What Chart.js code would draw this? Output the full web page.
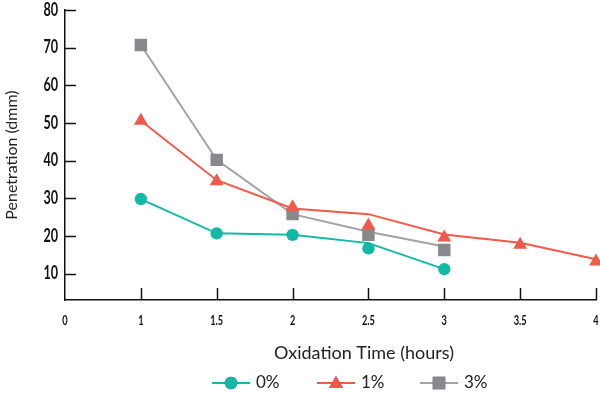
<!DOCTYPE html>
<html>
<head>
<meta charset="utf-8">
<script src="https://cdn.jsdelivr.net/npm/chart.js@4/dist/chart.umd.min.js"></script>
<style>
  html, body { margin: 0; padding: 0; background: #fff; }
  #wrap { width: 600px; height: 394px; position: relative; }
</style>
</head>
<body>
<div id="wrap"><canvas id="c"></canvas></div>
<script>
const categories = ['0', '1', '1.5', '2', '2.5', '3', '3.5', '4'];
// connecting-line vertices (as drawn in the figure)
const series0Line = [null, 29.8, 20.7, 20.3, 18.1, 11.2, null, null];
const series1Line = [null, 50.6, 34.8, 27.3, 25.8, 20.4, 18.2, 13.8];
const series3Line = [null, 70.7, 40.2, 25.8, 21.1, 17.2, null, null];
// marker positions (as drawn in the figure)
const series0Marker = [null, 29.8, 20.7, 20.3, 16.7, 11.2, null, null];
const series1Marker = [null, 50.6, 34.5, 27.6, 22.8, 19.6, 17.7, 13.2];
const series3Marker = [null, 70.7, 40.2, 25.8, 20.3, 16.3, null, null];
const seriesNames = ['0%', '1%', '3%'];
const yTicks = [10, 20, 30, 40, 50, 60, 70, 80];

const TEAL = '#14b8a6';
const RED = '#f15a4a';
const GRAYLINE = '#a3a3a3';
const GRAYPT = '#88888d';
const SANS = "Lato, 'Open Sans', sans-serif";

// draws condensed tick labels, inward tick marks, x title and legend
const axisDecor = {
  id: 'axisDecor',
  afterDraw(chart) {
    const ctx = chart.ctx;
    const a = chart.chartArea;
    const xs = chart.scales.x, ys = chart.scales.y;
    ctx.save();
    ctx.strokeStyle = '#111';
    ctx.lineWidth = 1.5;
    ys.ticks.forEach(t => {
      const py = Math.round(ys.getPixelForValue(t.value)) + 0.5;
      ctx.beginPath(); ctx.moveTo(a.left, py); ctx.lineTo(a.left + 11, py); ctx.stroke();
    });
    xs.ticks.forEach((t, i) => {
      if (i === 0) return;
      const px = Math.round(xs.getPixelForTick(i)) + 0.5;
      ctx.beginPath(); ctx.moveTo(px, a.bottom); ctx.lineTo(px, a.bottom - 12); ctx.stroke();
    });
    // condensed tick labels
    ctx.fillStyle = '#111';
    ctx.textBaseline = 'middle';
    ctx.font = 'bold 18px ' + SANS;
    ctx.textAlign = 'right';
    ys.ticks.forEach(t => {
      const py = ys.getPixelForValue(t.value);
      ctx.save();
      ctx.translate(a.left - 7, py);
      ctx.scale(0.7, 1);
      ctx.fillText(String(t.value), 0, 0);
      ctx.restore();
    });
    ctx.font = 'bold 14px ' + SANS;
    ctx.textAlign = 'center';
    xs.ticks.forEach((t, i) => {
      const px = xs.getPixelForTick(i);
      ctx.save();
      ctx.translate(px, a.bottom + 20);
      ctx.scale(0.66, 1);
      ctx.fillText(categories[i], 0, 0);
      ctx.restore();
    });
    // x axis title
    ctx.fillStyle = '#222';
    ctx.font = '18px ' + SANS;
    ctx.textAlign = 'center';
    ctx.fillText('Oxidation Time (hours)', 364, 353);
    // legend
    const items = chart.data.datasets.slice(0, 3);
    const starts = [212, 317, 420];
    items.forEach((ds, i) => {
      const x0 = starts[i], y0 = 383;
      ctx.strokeStyle = chart.data.datasets[i + 3].borderColor;
      ctx.lineWidth = 2;
      ctx.beginPath(); ctx.moveTo(x0, y0); ctx.lineTo(x0 + 38, y0); ctx.stroke();
      Chart.helpers.drawPoint(ctx, {
        pointStyle: ds.pointStyle, radius: ds.pointRadius, borderWidth: 0
      }, x0 + 19, y0 + (ds.pointStyle === 'triangle' ? 1 : 0));
      ctx.fillStyle = ds.pointBackgroundColor;
      ctx.fill();
      ctx.fillStyle = '#222';
      ctx.font = '17px ' + SANS;
      ctx.textAlign = 'left';
      ctx.fillText(ds.label, x0 + 44, y0);
    });
    ctx.restore();
  }
};

function markerSet(label, data, color, style, r) {
  return { label, data, showLine: false, borderColor: color, backgroundColor: color,
    pointBackgroundColor: color, pointBorderWidth: 0, pointStyle: style, pointRadius: r };
}
function lineSet(label, data, color) {
  return { label, data, borderColor: color, backgroundColor: color, pointRadius: 0,
    borderWidth: 2, tension: 0, spanGaps: false };
}

new Chart(document.getElementById('c'), {
  type: 'line',
  data: {
    labels: categories,
    datasets: [
      markerSet(seriesNames[0], series0Marker, TEAL, 'circle', 6.2),
      markerSet(seriesNames[1], series1Marker, RED, 'triangle', 8),
      markerSet(seriesNames[2], series3Marker, GRAYPT, 'rect', 8.8),
      lineSet(seriesNames[0], series0Line, TEAL),
      lineSet(seriesNames[1], series1Line, RED),
      lineSet(seriesNames[2], series3Line, GRAYLINE)
    ]
  },
  options: {
    responsive: true,
    maintainAspectRatio: false,
    animation: false,
    layout: { autoPadding: false, padding: { top: 10, right: 4, left: 0, bottom: 0 } },
    plugins: { legend: { display: false }, tooltip: { enabled: false } },
    scales: {
      x: {
        type: 'category',
        offset: false,
        grid: { display: false, drawTicks: false },
        border: { display: true, color: '#111', width: 1.5 },
        ticks: { display: false, autoSkip: false },
        afterFit(s) { s.height = 94; }
      },
      y: {
        min: 3, max: 80,
        grid: { display: false, drawTicks: false },
        border: { display: true, color: '#111', width: 1.5 },
        afterBuildTicks(s) { s.ticks = yTicks.map(v => ({ value: v })); },
        ticks: { display: false },
        title: { display: true, text: 'Penetration (dmm)', color: '#222', font: { family: SANS, size: 16 }, padding: { top: 2, bottom: 0 } },
        afterFit(s) { s.width = 65; }
      }
    }
  },
  plugins: [axisDecor]
});
</script>
</body>
</html>
